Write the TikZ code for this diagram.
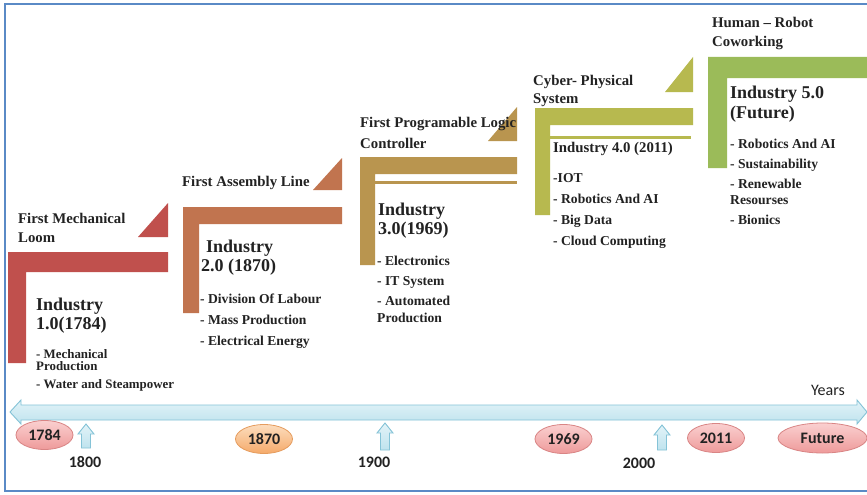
\documentclass[tikz,border=0pt]{standalone}
\usepackage{fontspec}
\usetikzlibrary{shapes.geometric}
\setmainfont{Liberation Serif}
\newfontfamily\lblfont{Carlito}
\definecolor{cA}{HTML}{C0504D}
\definecolor{cB}{HTML}{C1744F}
\definecolor{cC}{HTML}{B9954F}
\definecolor{cD}{HTML}{B7B94F}
\definecolor{cE}{HTML}{9BBB59}
\definecolor{txt}{HTML}{222222}
\definecolor{frm}{HTML}{5A8AC6}
\definecolor{tlfill}{HTML}{BFE3EE}
\definecolor{tltop}{HTML}{E2F3F8}
\definecolor{tlline}{HTML}{85C3D7}
\definecolor{pinkT}{HTML}{FAD0D0}
\definecolor{pinkB}{HTML}{EE9A9A}
\definecolor{pinkD}{HTML}{D98585}
\definecolor{orT}{HTML}{FCDDBE}
\definecolor{orB}{HTML}{F5AA6A}
\definecolor{orD}{HTML}{E59C5E}
\begin{document}
\begin{tikzpicture}[x=1pt,y=-1pt,
  ttl/.style={anchor=base west,inner sep=0pt,font=\bfseries\fontsize{14.8}{17}\selectfont,text=txt},
  hd/.style={anchor=base west,inner sep=0pt,font=\bfseries\fontsize{18}{21}\selectfont,text=txt},
  itm/.style={anchor=base west,inner sep=0pt,font=\bfseries\fontsize{13.6}{15}\selectfont,text=txt},
  sitm/.style={anchor=base west,inner sep=0pt,font=\bfseries\fontsize{12.9}{14}\selectfont,text=txt},
  yr/.style={ellipse,inner sep=0pt,minimum width=57pt,minimum height=29pt,font=\lblfont\bfseries\fontsize{16}{18}\selectfont,text=txt,line width=0.8pt},
  pinkyr/.style={yr,top color=pinkT,bottom color=pinkB,draw=pinkD},
  orangeyr/.style={yr,top color=orT,bottom color=orB,draw=orD},
  tick/.style={anchor=base,inner sep=0pt,font=\lblfont\bfseries\fontsize{16}{18}\selectfont,text=txt},
  uparr/.style={top color=tltop,bottom color=tlfill,draw=tlline,line width=0.9pt,line join=miter}
]
\useasboundingbox (0,0) rectangle (867,495);
\fill[white] (0,0) rectangle (867,495);
% frame
\draw[frm,line width=1.8pt] (867,4) -- (5,4) -- (5,491) -- (867,491);

% step 1
\fill[cA] (8,252) -- (168,252) -- (168,272) -- (26,272) -- (26,363) -- (8,363) -- cycle;
\fill[cA] (138,237) -- (168,237) -- (168,203) -- cycle;
% step 2
\fill[cB] (183,207) -- (342,207) -- (342,224) -- (199,224) -- (199,313) -- (183,313) -- cycle;
\fill[cB] (313,190) -- (342,190) -- (342,158) -- cycle;
% step 3
\fill[cC] (360,157) -- (517,157) -- (517,174) -- (375,174) -- (375,265) -- (360,265) -- cycle;
\fill[cC] (375,181) rectangle (517,183.5);
\fill[cC] (488,141) -- (517,141) -- (517,107) -- cycle;
% step 4
\fill[cD] (535,108) -- (693,108) -- (693,125) -- (550,125) -- (550,215) -- (535,215) -- cycle;
\fill[cD] (550,136) rectangle (691,138.5);
\fill[cD] (665,92) -- (693,92) -- (693,57) -- cycle;
% step 5
\fill[cE] (708,57) -- (867,57) -- (867,78) -- (727,78) -- (727,168) -- (708,168) -- cycle;

% texts step 1
\node[ttl] (t1a) at (18,223) {First Mechanical};
\node[ttl] (t1b) at (18,242) {Loom};
\node[hd] (h1a) at (36,310) {Industry};
\node[hd] (h1b) at (36,329) {1.0(1784)};
\node[sitm] (i1a) at (36,358) {- Mechanical};
\node[sitm] (i1b) at (36,370) {Production};
\node[sitm] (i1c) at (36,388) {- Water and Steampower};

% texts step 2
\node[ttl] (t2a) at (182,186) {First Assembly Line};
\node[hd] (h2a) at (206,252) {Industry};
\node[hd] (h2b) at (201,271) {2.0 (1870)};
\node[itm] (i2a) at (200,303) {- Division Of Labour};
\node[itm] (i2b) at (200,324) {- Mass Production};
\node[itm] (i2c) at (200,345) {- Electrical Energy};

% texts step 3
\node[ttl] (t3a) at (360,127) {First Programable Logic};
\node[ttl] (t3b) at (360,148) {Controller};
\node[hd] (h3a) at (378,215) {Industry};
\node[hd] (h3b) at (378,234) {3.0(1969)};
\node[itm] (i3a) at (377,265) {- Electronics};
\node[itm] (i3b) at (377,285) {- IT System};
\node[itm] (i3c) at (377,305) {- Automated};
\node[itm] (i3d) at (377,322) {Production};

% texts step 4
\node[ttl] (t4a) at (533,85) {Cyber- Physical};
\node[ttl] (t4b) at (533,103) {System};
\node[ttl] (h4a) at (553,152) {Industry 4.0 (2011)};
\node[itm] (i4a) at (553,182) {-IOT};
\node[itm] (i4b) at (553,203) {- Robotics And AI};
\node[itm] (i4c) at (553,224) {- Big Data};
\node[itm] (i4d) at (553,245) {- Cloud Computing};

% texts step 5
\node[ttl] (t5a) at (712,28) {Human – Robot};
\node[ttl] (t5b) at (712,47) {Coworking};
\node[hd] (h5a) at (730,98) {Industry 5.0};
\node[hd] (h5b) at (730,118) {(Future)};
\node[itm] (i5a) at (730,148) {- Robotics And AI};
\node[itm] (i5b) at (730,168) {- Sustainability};
\node[itm] (i5c) at (730,188) {- Renewable};
\node[itm] (i5d) at (730,204) {Resourses};
\node[itm] (i5e) at (730,224) {- Bionics};

% timeline double arrow
\draw[top color=tltop,bottom color=tlfill,draw=tlline,line width=0.9pt,line join=miter]
  (10,412) -- (21,400) -- (21,405) -- (857,405) -- (857,400) -- (867,412)
  -- (857,424) -- (857,420) -- (21,420) -- (21,424) -- cycle;
\node[anchor=base,inner sep=0pt,font=\lblfont\fontsize{16}{18}\selectfont,text=txt] (years) at (828,395) {Years};

% year ellipses
\node[pinkyr] (y1784) at (44.5,435) {1784};
\node[orangeyr] (y1870) at (264,439) {1870};
\node[pinkyr] (y1969) at (563.5,439) {1969};
\node[pinkyr] (y2011) at (716,438) {2011};
\node[pinkyr,minimum width=89pt,minimum height=30pt] (yfut) at (822.5,438) {Future};

% up arrows
\foreach \cx/\tp/\bt in {86/424/448, 385/423/450, 662/425/450}{
  \draw[uparr] (\cx,\tp) -- (\cx+8,\tp+10) -- (\cx+4.5,\tp+10) -- (\cx+4.5,\bt)
    -- (\cx-4.5,\bt) -- (\cx-4.5,\tp+10) -- (\cx-8,\tp+10) -- cycle;
}
\node[tick] (k1800) at (85,467) {1800};
\node[tick] (k1900) at (374,467) {1900};
\node[tick] (k2000) at (639,468) {2000};
\end{tikzpicture}
\end{document}
